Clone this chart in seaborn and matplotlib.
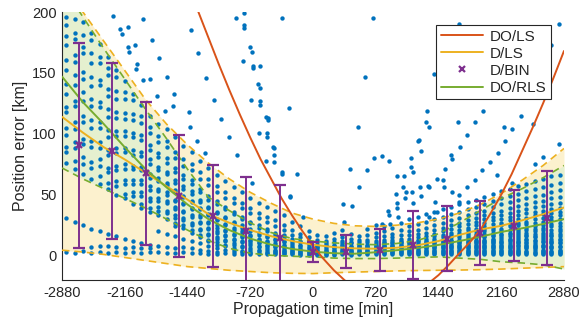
import matplotlib
matplotlib.use("Agg")
import numpy as np
import pandas as pd
import matplotlib.pyplot as plt
import seaborn as sns
from matplotlib.lines import Line2D

sns.set_theme(style="white")
plt.rcParams['font.family'] = ['Liberation Sans', 'DejaVu Sans']
plt.rcParams['axes.unicode_minus'] = False

# ---------------- data ----------------
# measurement columns (propagation time, min) and position errors (km)
col_times = [-2832, -2736, -2640, -2544, -2448, -2352, -2256, -2160, -2064, -1968,
             -1872, -1776, -1680, -1584, -1488, -1392, -1296, -1200, -1104, -1008,
             -912, -816, -720, -624, -528, -432, -336, -240, -144, -48,
             48, 144, 240, 336, 432, 528, 624, 720, 816, 912,
             1008, 1104, 1200, 1296, 1392, 1488, 1584, 1680, 1776, 1872,
             1968, 2064, 2160, 2256, 2352, 2448, 2544, 2640, 2736, 2832]
col_values = [
    [196, 189, 180, 173, 161, 152, 141, 133, 122, 118, 105, 99, 89, 85, 76, 31, 3],
    [194, 183, 178, 165, 159, 148, 140, 127, 123, 110, 104, 93, 88, 78, 71, 28, 2],
    [192, 181, 171, 166, 151, 145, 134, 127, 115, 110, 96, 92, 81, 75, 67, 25, 4],
    [183, 177, 166, 158, 147, 139, 129, 123, 111, 105, 94, 89, 77, 72, 63, 22, 7, 2],
    [174, 163, 158, 144, 140, 126, 122, 110, 105, 93, 88, 79, 74, 65, 59, 20, 8, 3],
    [163, 154, 148, 137, 131, 120, 114, 103, 97, 87, 83, 72, 69, 60, 55, 18, 8, 2],
    [152, 147, 135, 129, 118, 113, 102, 98, 88, 84, 74, 70, 61, 57, 50, 16, 7, 3],
    [143, 134, 129, 117, 112, 102, 98, 88, 85, 75, 71, 62, 59, 51, 47, 14, 6, 2],
    [133, 128, 116, 111, 101, 97, 87, 83, 74, 71, 62, 59, 52, 49, 42, 12, 7, 3],
    [124, 115, 109, 99, 95, 85, 82, 73, 70, 62, 59, 52, 49, 42, 39, 10, 6, 2],
    [115, 106, 101, 91, 87, 79, 75, 67, 64, 57, 54, 47, 45, 39, 36, 9, 6, 3],
    [108, 98, 93, 84, 81, 73, 70, 64, 61, 55, 53, 47, 45, 40, 37, 33, 20, 8, 3],
    [104, 94, 89, 80, 76, 69, 67, 60, 58, 52, 50, 45, 43, 37, 35, 30, 18, 7, 2],
    [97, 85, 80, 72, 69, 62, 60, 54, 52, 46, 45, 40, 38, 33, 31, 27, 24, 16, 6, 2],
    [90, 79, 74, 66, 63, 57, 55, 49, 48, 43, 42, 37, 36, 31, 29, 25, 23, 14, 7, 3],
    [85, 75, 70, 62, 59, 53, 51, 45, 44, 39, 38, 33, 32, 27, 25, 21, 19, 12, 6, 2],
    [78, 69, 63, 55, 52, 46, 44, 39, 38, 33, 32, 28, 27, 22, 21, 17, 15, 10, 5, 2],
    [72, 63, 58, 49, 46, 40, 39, 34, 33, 28, 27, 23, 22, 18, 17, 13, 12, 8, 4, 1],
    [66, 57, 52, 45, 42, 36, 35, 30, 29, 25, 23, 20, 19, 15, 14, 11, 9, 6, 3, 1],
    [61, 52, 47, 40, 38, 32, 31, 26, 25, 21, 20, 17, 16, 13, 12, 9, 8, 5, 2],
    [56, 47, 43, 36, 34, 28, 27, 23, 21, 18, 17, 14, 13, 10, 9, 6, 5, 3, 1],
    [52, 43, 39, 32, 30, 25, 23, 20, 19, 16, 15, 12, 11, 8, 7, 4, 3, 1],
    [47, 39, 35, 28, 27, 22, 20, 17, 16, 13, 12, 10, 9, 6, 5, 3, 2, 1],
    [43, 35, 31, 25, 23, 19, 17, 14, 13, 11, 10, 8, 7, 5, 4, 2, 1],
    [40, 32, 28, 22, 20, 16, 15, 12, 11, 9, 8, 6, 5, 3, 2, 1],
    [37, 29, 24, 19, 17, 14, 13, 10, 9, 8, 7, 5, 4, 3, 2, 1],
    [33, 25, 21, 17, 15, 12, 11, 9, 8, 6, 5, 4, 3, 2, 1],
    [28, 21, 17, 14, 12, 10, 9, 7, 6, 5, 4, 3, 2, 1],
    [24, 18, 15, 12, 11, 9, 8, 6, 5, 4, 3, 2, 1, 0.5],
    [20, 15, 12, 10, 9, 7, 6, 5, 4, 3, 2, 1, 0.5],
    [17, 13, 11, 9, 8, 7, 6, 5, 4, 3, 2, 1, 0.5],
    [16, 12, 10, 9, 8, 6, 5, 4, 3, 2, 1, 0.5],
    [19, 14, 11, 9, 8, 7, 6, 5, 4, 3, 2, 1, 0.5],
    [21, 15, 12, 10, 9, 8, 6, 5, 4, 3, 2, 1],
    [18, 14, 11, 10, 8, 7, 6, 5, 4, 3, 2, 1, 0.5],
    [16, 13, 11, 9, 8, 7, 6, 5, 4, 3, 2, 1],
    [22, 17, 13, 11, 9, 8, 7, 6, 5, 4, 3, 2, 1],
    [25, 19, 15, 12, 10, 9, 8, 7, 6, 5, 4, 3, 2, 1],
    [24, 20, 16, 13, 11, 10, 9, 8, 7, 6, 5, 4, 3, 2, 1],
    [23, 18, 15, 13, 11, 10, 9, 8, 7, 6, 5, 4, 3, 2, 1],
    [27, 21, 17, 14, 12, 11, 10, 9, 8, 7, 6, 5, 4, 3, 2, 1],
    [30, 24, 20, 17, 14, 12, 11, 10, 9, 8, 7, 6, 5, 4, 3, 2, 1],
    [32, 26, 21, 18, 15, 13, 12, 10, 9, 8, 7, 6, 5, 4, 3, 2, 1],
    [34, 28, 23, 19, 16, 14, 12, 11, 10, 9, 8, 7, 6, 5, 4, 3, 2, 1],
    [36, 30, 25, 21, 18, 16, 14, 12, 11, 10, 9, 8, 7, 6, 5, 4, 3, 2, 1],
    [38, 32, 27, 23, 20, 17, 15, 13, 12, 11, 10, 9, 8, 7, 6, 5, 4, 3, 2, 1],
    [40, 34, 29, 25, 22, 19, 17, 15, 13, 12, 11, 10, 9, 8, 7, 6, 5, 4, 3, 2, 1],
    [42, 36, 31, 27, 24, 21, 19, 17, 15, 13, 12, 11, 10, 9, 8, 7, 6, 5, 4, 3, 2, 1],
    [44, 38, 33, 29, 26, 23, 21, 19, 17, 15, 14, 12, 11, 10, 9, 8, 7, 6, 5, 4, 3, 2, 1],
    [46, 40, 35, 31, 28, 25, 22, 20, 18, 16, 15, 13, 12, 11, 10, 9, 8, 7, 6, 5, 4, 3, 2, 1],
    [48, 42, 37, 33, 30, 27, 24, 22, 20, 18, 16, 15, 13, 12, 11, 10, 9, 8, 7, 6, 5, 4, 3, 2, 1],
    [51, 45, 40, 35, 32, 29, 26, 23, 21, 19, 17, 16, 14, 13, 12, 11, 10, 9, 8, 7, 6, 5, 4, 3, 2, 1],
    [53, 47, 42, 37, 33, 30, 27, 25, 22, 20, 18, 17, 15, 14, 12, 11, 10, 9, 8, 7, 6, 5, 4, 3, 2, 1],
    [55, 49, 44, 39, 35, 32, 29, 26, 24, 21, 19, 18, 16, 14, 13, 12, 10, 9, 8, 7, 6, 5, 4, 3, 2, 1],
    [57, 51, 46, 41, 37, 33, 30, 27, 25, 22, 20, 19, 17, 15, 14, 12, 11, 10, 9, 8, 6, 5, 4, 3, 2, 1],
    [59, 53, 47, 42, 38, 35, 31, 28, 26, 23, 21, 19, 17, 16, 14, 13, 11, 10, 9, 8, 7, 6, 4, 3, 2, 1],
    [61, 55, 49, 44, 40, 36, 33, 30, 27, 24, 22, 20, 18, 16, 15, 13, 12, 10, 9, 8, 7, 6, 5, 3, 2, 1],
    [63, 56, 50, 45, 41, 37, 34, 31, 28, 25, 23, 21, 19, 17, 15, 14, 12, 11, 9, 8, 7, 5, 4, 3, 2, 1],
    [65, 58, 52, 47, 42, 38, 35, 32, 29, 26, 24, 21, 19, 17, 16, 14, 12, 11, 10, 8, 7, 6, 4, 3, 2, 1],
    [66, 60, 54, 48, 43, 39, 36, 33, 30, 27, 24, 22, 20, 18, 16, 14, 13, 11, 10, 8, 7, 5, 4, 3, 2, 1],
]
# sparse large-error points
out_t = [-2299, -1955, -2219, -2127, -2196, -2046, -1851, -2127, -2115, -1771, -2023, -2035,
         -1679, -1874, -1955, -1794, -1598, -1702, -1426, -1610,
         -1403, -1322, -1230, -1138, -1057, -966, -1414, -1334, -885, -793, -793, -793, -356,
         -724, -701, -805, -690, -690, -609, -632, -609, -713, -609, -609, -276, -540, -517,
         -517, -621, -529, -529, -460, -872, -540, -450, -450, -450, -355, -355, -185, -265,
         -265, -115, -1242, -700,
         426, 345, 448, 529, 701, 793, 874, 621, 1127, 1127, 1150, 966, 1046, 1035, 1069,
         1138, 1230, 954, 1058, 1150, 966, 966, 862, 874, 977, 793, 885, 356, 1322, 1334,
         1426, 1403, 1334, 1426, 1242, 1207, 1242,
         690, 598, 517, 1219, 1311, 1299, 1334, 1392,
         1678, 2828, 1954, 1667, 1862, 2391, 2196, 2288, 1770, 2529, 2207, 1690, 2828, 2736,
         1586, 1598, 2127, 2035, 1517, 1943, 2115, 1494, 1862, 2288, 1506, 1770, 1598, 1678,
         1678, 2644, 2552]
out_y = [197, 194, 186, 188, 182, 173, 177, 171, 167, 162, 157, 153,
         147, 145, 144, 131, 133, 119, 118, 123,
         185, 166, 146, 128, 112, 97, 106, 94, 195, 199, 189, 187, 195,
         171, 167, 160, 156, 154, 156, 141, 138, 128, 127, 124, 121, 114, 113,
         111, 101, 101, 97, 89, 83, 78, 88, 83, 77, 69, 67, 67, 49,
         48, 32, 84, 60,
         71, 42, 41, 56, 80, 82, 78, 70, 80, 73, 69, 65, 65, 56, 52,
         52, 56, 51, 47, 43, 43, 39, 37, 33, 32, 26, 26, 28, 57, 56,
         63, 44, 32, 36, 49, 94, 86,
         195, 147, 106, 95, 119, 110, 106, 149,
         190, 190, 119, 110, 110, 115, 106, 104, 99, 108, 94, 89, 92, 173,
         83, 79, 84, 77, 71, 70, 66, 62, 62, 60, 56, 56, 52, 50,
         44, 81, 75]

# fitted curves sampled on the time grid
grid_t = [-2880, -2640, -2400, -2160, -1920, -1680, -1440, -1200, -960, -720, -480, -240,
          0, 240, 480, 720, 960, 1200, 1440, 1680, 1920, 2160, 2400, 2640, 2880]
dls_mean = [114, 101, 89, 79, 68, 57, 46, 34, 27, 21, 16, 12,
            9, 7, 6, 5.7, 6.5, 8.5, 12, 17, 21.5, 24.5, 29, 34, 39.5]
dls_upper = [224, 200, 176, 152, 128, 108, 91, 76, 63, 52, 43, 35,
             30, 26.5, 24.5, 24, 25, 27, 30, 35, 42, 51, 62, 74, 88]
dls_lower = [4.5, 3, 1, -1.5, -4, -6.5, -9, -10.5, -12, -13, -14, -14.5,
             -14.7, -14, -13.5, -13, -12.5, -12.2, -12, -11.8, -11.5, -11, -10.3, -9.7, -9]
dorls_mean = [147, 126, 108, 89, 71, 56, 42, 30, 21, 14, 9, 5.5,
              3.3, 2, 1.6, 2.8, 4.5, 6.3, 8.8, 12, 15.5, 19.5, 22.5, 26, 30]
dorls_upper = [222, 196, 170, 145, 120, 96, 71, 48, 37, 27, 19, 14,
               12, 10.5, 9.5, 9, 10, 12.5, 18, 27, 37, 47, 55, 64, 74]
dorls_lower = [72, 63, 55, 47, 39, 30, 21, 12.5, 6, 2, 0.3, -0.5,
               -1, -2, -2.4, -2.4, -2, -1.5, -1, -2, -3, -5, -6, -7.5, -11]

dols_t = [-1320, -1200, -1080, -960, -840, -720, -600, -480, -360, -240, -120, 0, 120,
          240, 360, 480, 600, 720, 840, 960, 1080, 1200, 1320, 1440, 1560, 1680, 1800,
          1920, 2040, 2160, 2280, 2400, 2520, 2640, 2760, 2880]
dols_y = [201, 179, 157, 136, 116, 97, 79, 63, 47, 33, 20, 8, -2.6,
          -12, -20, -27, -32, -35, -37, -36.5, -34, -29, -23, -16, -7.4, 2, 11,
          21, 35, 50, 67, 86, 105, 125, 146, 168]

bin_t = [-2688, -2304, -1920, -1536, -1152, -768, -384, 0, 384, 768, 1152, 1536, 1920, 2304, 2688]
bin_mean = [90.6, 85.9, 67.5, 49, 32.5, 19.9, 14.7, 2.8, 3.4, 4.6, 9.1, 13.9, 18.3, 24.7, 31.2]
bin_err = [84.2, 72.5, 59, 50, 41.9, 44.5, 43.6, 8.4, 13.2, 16.9, 27.9, 26.7, 26.2, 29.3, 38.6]

# ---------------- colours ----------------
C_BLUE = '#0072BD'
C_RED = '#D95319'
C_YEL = '#EDB120'
C_PUR = '#7E2F8E'
C_GRN = '#77AC30'
C_AX = '#262626'
F_YEL = '#FCF1CE'
F_GRN = '#E5F0CF'

rows = []
for t, vals in zip(col_times, col_values):
    for v in vals:
        rows.append((t, v))
for t, v in zip(out_t, out_y):
    rows.append((t, v))
pts = pd.DataFrame(rows, columns=['time', 'err'])
curves = pd.DataFrame({'time': grid_t, 'dls': dls_mean, 'dls_u': dls_upper, 'dls_l': dls_lower,
                       'rls': dorls_mean, 'rls_u': dorls_upper, 'rls_l': dorls_lower})
red = pd.DataFrame({'time': dols_t, 'err': dols_y})

fig = plt.figure(figsize=(5.81, 3.31), dpi=100)
ax = fig.add_axes([0.1067, 0.154, 0.864, 0.8097])

ax.fill_between(curves['time'], curves['dls_l'], curves['dls_u'], color=F_YEL, lw=0, zorder=1)
ax.fill_between(curves['time'], curves['rls_l'], curves['rls_u'], color=F_GRN, lw=0, zorder=1.1)

sns.scatterplot(data=pts, x='time', y='err', color=C_BLUE, s=10, linewidth=0, ax=ax, zorder=2, legend=False)

dash = (0, (4.5, 3))
for col in ['dls_u', 'dls_l']:
    sns.lineplot(data=curves, x='time', y=col, color=C_YEL, lw=1.2, linestyle=dash, ax=ax, zorder=3)
for col in ['rls_u', 'rls_l']:
    sns.lineplot(data=curves, x='time', y=col, color=C_GRN, lw=1.2, linestyle=dash, ax=ax, zorder=3)
sns.lineplot(data=curves, x='time', y='dls', color=C_YEL, lw=1.4, ax=ax, zorder=4)
sns.lineplot(data=curves, x='time', y='rls', color=C_GRN, lw=1.4, ax=ax, zorder=4)
sns.lineplot(data=red, x='time', y='err', color=C_RED, lw=1.4, ax=ax, zorder=4)

ax.errorbar(bin_t, bin_mean, yerr=bin_err, fmt='x', color=C_PUR, ecolor=C_PUR,
            elinewidth=1.4, capsize=4, capthick=1.4, markersize=5, mew=1.6, zorder=5)

ax.set_xlim(-2880, 2880)
ax.set_ylim(-20, 200)
ax.set_xticks([-2880, -2160, -1440, -720, 0, 720, 1440, 2160, 2880])
ax.set_yticks([0, 50, 100, 150, 200])
ax.set_xlabel('Propagation time [min]', fontsize=11.5, color=C_AX, labelpad=2)
ax.set_ylabel('Position error [km]', fontsize=11.5, color=C_AX, labelpad=3)
ax.tick_params(axis='both', direction='in', length=4, width=0.8, colors=C_AX, labelsize=10.5, pad=4)
for s in ['top', 'right']:
    ax.spines[s].set_visible(False)
for s in ['left', 'bottom']:
    ax.spines[s].set_color(C_AX)
    ax.spines[s].set_linewidth(0.8)
ax.grid(False)

handles = [Line2D([], [], color=C_RED, lw=1.4),
           Line2D([], [], color=C_YEL, lw=1.4),
           Line2D([], [], color=C_PUR, marker='x', ls='none', markersize=5, mew=1.6),
           Line2D([], [], color=C_GRN, lw=1.4)]
leg = ax.legend(handles, ['DO/LS', 'D/LS', 'D/BIN', 'DO/RLS'], loc='upper right',
                bbox_to_anchor=(0.974, 0.951), borderaxespad=0, fontsize=11,
                frameon=True, fancybox=False, framealpha=1, edgecolor=C_AX,
                handlelength=2.8, labelspacing=0.2, borderpad=0.3, handletextpad=0.4)
leg.get_frame().set_linewidth(0.8)
leg.set_zorder(10)

fig.savefig('out.png', dpi=100)
